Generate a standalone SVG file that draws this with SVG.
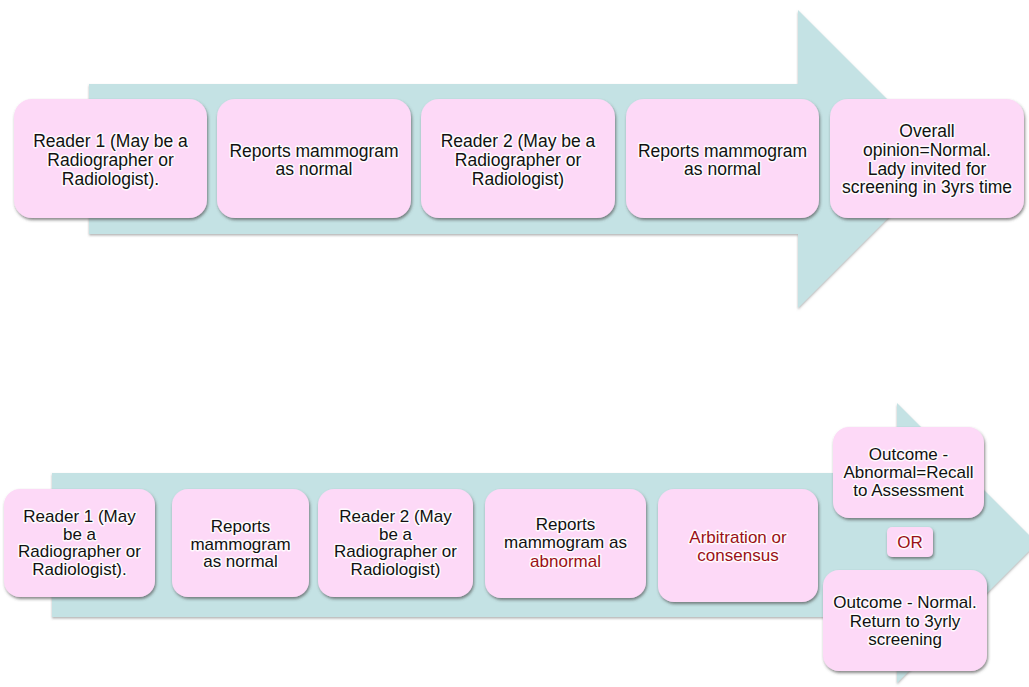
<svg xmlns="http://www.w3.org/2000/svg" width="1029" height="687" viewBox="0 0 1029 687">
<defs>
<filter id="sh" x="-10%" y="-10%" width="125%" height="130%">
<feDropShadow dx="1" dy="2" stdDeviation="1.5" flood-color="#444" flood-opacity="0.65"/>
</filter>
<filter id="ash" x="-5%" y="-5%" width="110%" height="115%">
<feDropShadow dx="0" dy="1.5" stdDeviation="1" flood-color="#666" flood-opacity="0.5"/>
</filter>
</defs>
<style>
.arrow{fill:#C4E2E4;filter:url(#ash)}
.box{fill:#FDD9F7;filter:url(#sh)}
text{font-family:"Liberation Sans",Arial,sans-serif;text-anchor:middle;fill:#111;stroke:#fff;stroke-width:3;stroke-opacity:0.85;stroke-linejoin:round;paint-order:stroke}
.t{font-size:17.5px}
.b{font-size:17px}
.red{fill:#9A1016}
</style>
<rect width="1029" height="687" fill="#fff"/>
<g id="connectors">
<path class="arrow" d="M89,84 H798 V10 L947,159 L798,308 V234 H89 Z"/>
<path class="arrow" d="M52,473 H897 V403 L1037,543 L897,683 V617 H52 Z"/>
</g>
<g id="t1">
<rect class="box" x="14" y="99" width="193" height="119" rx="18"/>
<text class="t" x="110.5" y="147">Reader 1 (May be a</text>
<text class="t" x="110.5" y="166">Radiographer or</text>
<text class="t" x="110.5" y="185">Radiologist).</text>
</g>
<g id="t2">
<rect class="box" x="217" y="99" width="194" height="119" rx="18"/>
<text class="t" x="314" y="157">Reports mammogram</text>
<text class="t" x="314" y="175">as normal</text>
</g>
<g id="t3">
<rect class="box" x="421" y="99" width="194" height="119" rx="18"/>
<text class="t" x="518" y="147">Reader 2 (May be a</text>
<text class="t" x="518" y="166">Radiographer or</text>
<text class="t" x="518" y="185">Radiologist)</text>
</g>
<g id="t4">
<rect class="box" x="626" y="99" width="193" height="119" rx="18"/>
<text class="t" x="722.5" y="157">Reports mammogram</text>
<text class="t" x="722.5" y="175">as normal</text>
</g>
<g id="t5">
<rect class="box" x="830" y="99" width="194" height="119" rx="18"/>
<text class="t" x="927" y="137">Overall</text>
<text class="t" x="927" y="156">opinion=Normal.</text>
<text class="t" x="927" y="175">Lady invited for</text>
<text class="t" x="927" y="193">screening in 3yrs time</text>
</g>
<g id="b1">
<rect class="box" x="4" y="489" width="151" height="108" rx="16"/>
<text class="b" x="79.5" y="522">Reader 1 (May</text>
<text class="b" x="79.5" y="540">be a</text>
<text class="b" x="79.5" y="557">Radiographer or</text>
<text class="b" x="79.5" y="575">Radiologist).</text>
</g>
<g id="b2">
<rect class="box" x="172" y="489" width="137" height="108" rx="16"/>
<text class="b" x="240.5" y="532">Reports</text>
<text class="b" x="240.5" y="550">mammogram</text>
<text class="b" x="240.5" y="567">as normal</text>
</g>
<g id="b3">
<rect class="box" x="318" y="489" width="155" height="108" rx="16"/>
<text class="b" x="395.5" y="522">Reader 2 (May</text>
<text class="b" x="395.5" y="540">be a</text>
<text class="b" x="395.5" y="557">Radiographer or</text>
<text class="b" x="395.5" y="575">Radiologist)</text>
</g>
<g id="b4">
<rect class="box" x="485" y="489" width="161" height="109" rx="16"/>
<text class="b" x="565.5" y="530">Reports</text>
<text class="b" x="565.5" y="548">mammogram as</text>
<text class="b red" x="565.5" y="567">abnormal</text>
</g>
<g id="b5">
<rect class="box" x="658" y="489" width="160" height="113" rx="16"/>
<text class="b red" x="738" y="543">Arbitration or</text>
<text class="b red" x="738" y="561">consensus</text>
</g>
<g id="b6">
<rect class="box" x="833" y="427" width="151" height="91" rx="16"/>
<text class="b" x="908.5" y="460">Outcome -</text>
<text class="b" x="908.5" y="478">Abnormal=Recall</text>
<text class="b" x="908.5" y="496">to Assessment</text>
</g>
<g id="or">
<rect class="box" x="887" y="527" width="46" height="30" rx="5"/>
<text class="b red" x="910" y="548">OR</text>
</g>
<g id="b7">
<rect class="box" x="823" y="570" width="164" height="101" rx="16"/>
<text class="b" x="905" y="608">Outcome - Normal.</text>
<text class="b" x="905" y="627">Return to 3yrly</text>
<text class="b" x="905" y="645">screening</text>
</g>
</svg>
